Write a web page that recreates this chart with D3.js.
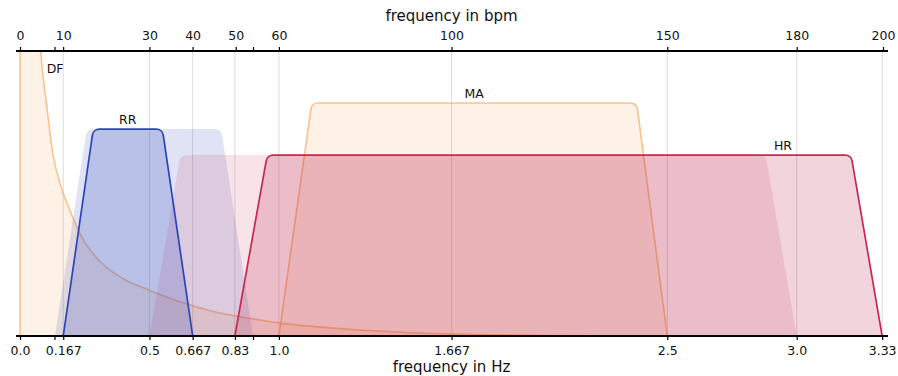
<!DOCTYPE html>
<html>
<head>
<meta charset="utf-8">
<script src="https://cdn.jsdelivr.net/npm/d3@7"></script>
<style>
  html, body { margin: 0; padding: 0; background: #fff; }
  svg { display: block; font-family: "DejaVu Sans", sans-serif; }
</style>
</head>
<body>
<svg id="chart" width="898" height="376"></svg>
<script>
// ---------------- data ----------------
// bottom axis ticks (Hz)
const hzTicks = [0, 0.167, 0.5, 0.667, 0.83, 1.0, 1.667, 2.5, 3.0, 3.33];
const hzTickLabels = ["0.0", "0.167", "0.5", "0.667", "0.83", "1.0", "1.667", "2.5", "3.0", "3.33"];
// top axis ticks (bpm)
const bpmTicks = [0, 10, 30, 40, 50, 60, 100, 150, 180, 200];
const bpmTickLabels = ["0", "10", "30", "40", "50", "60", "100", "150", "180", "200"];
// unlabeled extra ticks (bpm)
const extraBpmTicks = [8, 54];

// DF: decaying curve (Hz, relative level)
const dfHz  = [0, 0.065, 0.08, 0.103, 0.127, 0.16, 0.193, 0.243, 0.3, 0.4, 0.502, 0.618, 0.75, 0.9, 1.0, 1.25, 1.5, 1.75, 2.0, 2.5, 3.33];
const dfVal = [1.5, 1.25, 1.0, 0.81, 0.64, 0.52, 0.44, 0.34, 0.27, 0.2, 0.16, 0.12, 0.085, 0.06, 0.046, 0.025, 0.012, 0.005, 0.002, 0.0, 0.0];

// trapezoid bands: [bottom-left, top-left, top-right, bottom-right] in Hz, plateau level
const bandNames   = ["MA", "RR wide", "HR wide", "RR", "HR"];
const bandCorners = [
  [1.0, 1.127, 2.382, 2.5],
  [0.135, 0.258, 0.777, 0.9],
  [0.5, 0.62, 2.88, 3.0],
  [0.167, 0.283, 0.55, 0.667],
  [0.83, 0.955, 3.21, 3.33]
];
const bandLevels  = [0.8175, 0.726, 0.635, 0.726, 0.635];

// labels
const labelText = ["DF", "RR", "MA", "HR"];
const labelHz   = [0.103, 0.416, 1.754, 2.947];
const labelVal  = [0.907, 0.726, 0.8175, 0.635];

// ---------------- layout ----------------
const svg = d3.select("#chart");
const x  = d3.scaleLinear().domain([0, 10 / 3]).range([20, 883]);
const xb = d3.scaleLinear().domain([0, 200]).range([20, 883]);
const y  = d3.scaleLinear().domain([0, 1]).range([336, 51]);

const ORANGE = "rgb(245,160,80)";
const BLUE = "rgb(60,80,190)";
const RED = "rgb(190,40,80)";

const styles = {
  "MA":      { fill: ORANGE, fo: 0.15, stroke: ORANGE, so: 0.6 },
  "RR wide": { fill: BLUE, fo: 0.16, stroke: null },
  "HR wide": { fill: RED, fo: 0.13, stroke: null },
  "RR":      { fill: BLUE, fo: 0.23, stroke: "#2b45b9", so: 1 },
  "HR":      { fill: RED, fo: 0.2, stroke: "#c8274f", so: 1 }
};

svg.append("defs").append("clipPath").attr("id", "plotclip")
  .append("rect").attr("x", 0).attr("y", y(1)).attr("width", 898).attr("height", y(0) - y(1));

// grid lines
svg.append("g").selectAll("line").data(hzTicks.slice(1)).join("line")
  .attr("x1", d => x(d)).attr("x2", d => x(d))
  .attr("y1", y(1)).attr("y2", y(0))
  .attr("stroke", "#dcdcdc").attr("stroke-width", 1);

const plot = svg.append("g").attr("clip-path", "url(#plotclip)");

// DF
const dfPts = dfHz.map((h, i) => [h, dfVal[i]]);
const dfArea = d3.area().x(d => x(d[0])).y0(y(0)).y1(d => y(d[1])).curve(d3.curveMonotoneX);
const dfLine = d3.line().x(d => x(d[0])).y(d => y(d[1])).curve(d3.curveMonotoneX);
plot.append("path").attr("d", dfArea(dfPts)).attr("fill", ORANGE).attr("fill-opacity", 0.15);
plot.append("path").attr("d", "M" + x(0) + "," + y(0) + "L" + dfLine(dfPts).slice(1))
  .attr("fill", "none").attr("stroke", ORANGE).attr("stroke-opacity", 0.6).attr("stroke-width", 1.6);

// rounded trapezoid
function trap(c, lvl, r) {
  const p = d3.path();
  const yb = y(0), yt = y(lvl);
  p.moveTo(x(c[0]), yb);
  p.arcTo(x(c[1]), yt, x(c[2]), yt, r);
  p.arcTo(x(c[2]), yt, x(c[3]), yb, r);
  p.lineTo(x(c[3]), yb);
  return p.toString();
}

bandNames.forEach((name, i) => {
  const s = styles[name];
  const d = trap(bandCorners[i], bandLevels[i], 7);
  plot.append("path").attr("d", d + "Z").attr("fill", s.fill).attr("fill-opacity", s.fo).attr("stroke", "none");
  if (s.stroke) {
    plot.append("path").attr("d", d).attr("fill", "none")
      .attr("stroke", s.stroke).attr("stroke-opacity", s.so).attr("stroke-width", 1.7)
      .attr("stroke-linejoin", "round");
  }
});

// band labels
svg.append("g").selectAll("text").data(labelText).join("text")
  .attr("x", (d, i) => x(labelHz[i]))
  .attr("y", (d, i) => y(labelVal[i]) - 5)
  .attr("text-anchor", (d, i) => i === 0 ? "start" : "middle")
  .attr("font-size", 12.5).attr("fill", "#111")
  .text(d => d);

// axes
const topAxis = d3.axisTop(xb).tickValues(bpmTicks.concat(extraBpmTicks))
  .tickFormat(d => { const k = bpmTicks.indexOf(d); return k >= 0 ? bpmTickLabels[k] : ""; })
  .tickSize(4).tickPadding(7);
const gTop = svg.append("g").attr("transform", `translate(0,${y(1)})`).call(topAxis);

const bottomAxis = d3.axisBottom(x).tickValues(hzTicks.concat(extraBpmTicks.map(b => b / 60)))
  .tickFormat(d => { const k = hzTicks.indexOf(d); return k >= 0 ? hzTickLabels[k] : ""; })
  .tickSize(4).tickPadding(6);
const gBot = svg.append("g").attr("transform", `translate(0,${y(0)})`).call(bottomAxis);

[gTop, gBot].forEach(g => {
  g.select(".domain").remove();
  g.selectAll(".tick line").attr("stroke", "#000").attr("stroke-width", 1.2);
  g.selectAll(".tick text").attr("font-size", 12.5).attr("fill", "#111")
    .attr("font-family", "DejaVu Sans, sans-serif");
  g.append("line").attr("x1", x.range()[0] - 4).attr("x2", x.range()[1] + 5)
    .attr("y1", 0).attr("y2", 0).attr("stroke", "#000").attr("stroke-width", 2);
});

// axis titles
svg.append("text").attr("x", (x.range()[0] + x.range()[1]) / 2).attr("y", 21)
  .attr("text-anchor", "middle").attr("font-size", 15).attr("fill", "#111").text("frequency in bpm");
svg.append("text").attr("x", (x.range()[0] + x.range()[1]) / 2).attr("y", 372)
  .attr("text-anchor", "middle").attr("font-size", 15).attr("fill", "#111").text("frequency in Hz");
</script>
</body>
</html>
